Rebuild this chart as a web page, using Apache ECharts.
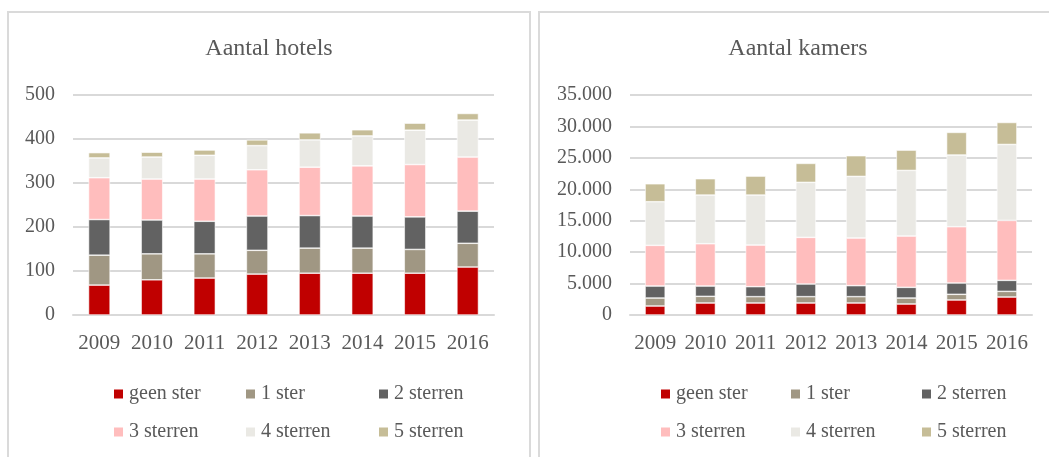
<!DOCTYPE html>
<html>
<head>
<meta charset="utf-8">
<script src="https://cdn.jsdelivr.net/npm/echarts@6/dist/echarts.min.js"></script>
<style>
  html, body { margin: 0; padding: 0; background: #fff; }
  body { width: 1049px; height: 457px; position: relative; overflow: hidden; }
  .panel { position: absolute; top: 11px; height: 460px; box-sizing: border-box;
           border: 2px solid #DADADA; background: #fff; }
  #hotels { left: 7px; width: 524px; }
  #kamers { left: 538px; width: 520px; }
</style>
</head>
<body>
<div id="hotels" class="panel"></div>
<div id="kamers" class="panel"></div>
<script>
// Categories and star classes
const years = ['2009', '2010', '2011', '2012', '2013', '2014', '2015', '2016'];
const classes = ['geen ster', '1 ster', '2 sterren', '3 sterren', '4 sterren', '5 sterren'];
const classColors = ['#C00000', '#A09783', '#626262', '#FFBDBD', '#EAE9E4', '#C6BD97'];

// Number of hotels per star class
const hotelsGeen   = [68, 80, 84, 93, 95, 95, 95, 109];
const hotels1      = [68, 59, 55, 54, 57, 57, 54, 54];
const hotels2      = [81, 77, 74, 78, 74, 73, 74, 73];
const hotels3      = [95, 93, 96, 105, 110, 114, 119, 123];
const hotels4      = [45, 50, 54, 55, 62, 68, 78, 84];
const hotels5      = [12, 11, 12, 13, 16, 14, 16, 15];

// Number of rooms per star class
const kamersGeen   = [1430, 1910, 1910, 1910, 1910, 1750, 2390, 2860];
const kamers1      = [1270, 1060, 1010, 1010, 1010, 950, 900, 900];
const kamers2      = [1910, 1640, 1590, 2010, 1750, 1700, 1800, 1750];
const kamers3      = [6470, 6730, 6620, 7420, 7580, 8160, 8960, 9540];
const kamers4      = [6940, 7740, 7950, 8750, 9800, 10440, 11400, 12080];
const kamers5      = [2860, 2600, 3020, 3020, 3290, 3230, 3600, 3500];

const hotelsTicks = { min: 0, max: 500, interval: 100 };
const kamersTicks = { min: 0, max: 35000, interval: 5000 };

const FONT = '"Liberation Serif", "DejaVu Serif", serif';
const TEXT = '#595959';

function thousands(v) {
  return String(v).replace(/\B(?=(\d{3})+(?!\d))/g, '.');
}

// One legend component per entry, laid out in a 3 x 2 grid
function legendGrid(columns, rows) {
  return classes.map((name, i) => ({
    data: [name],
    left: columns[i % 3],
    top: rows[Math.floor(i / 3)],
    padding: 0,
    itemWidth: 11,
    itemHeight: 11,
    icon: 'rect',
    selectedMode: false,
    textStyle: { fontFamily: FONT, fontSize: 20, color: TEXT }
  }));
}

function buildOption(title, seriesData, ticks, layout) {
  return {
    animation: false,
    title: {
      text: title,
      left: 'center',
      top: 19,
      textStyle: { fontFamily: FONT, fontSize: 24, fontWeight: 'normal', color: TEXT }
    },
    legend: legendGrid(layout.legendCols, [371, 409]),
    grid: { left: layout.gridLeft, right: layout.gridRight, top: 82, bottom: 154 },
    xAxis: {
      type: 'category',
      data: years,
      axisLine: { show: true, lineStyle: { color: '#D9D9D9', width: 2 } },
      axisTick: { show: false },
      axisLabel: { fontFamily: FONT, fontSize: 21, color: TEXT, margin: 18, interval: 0 }
    },
    yAxis: {
      type: 'value',
      min: ticks.min,
      max: ticks.max,
      interval: ticks.interval,
      axisLine: { show: false },
      axisTick: { show: false },
      splitLine: { lineStyle: { color: '#D9D9D9', width: 2 } },
      axisLabel: { fontFamily: FONT, fontSize: 20, color: TEXT, margin: 18, formatter: thousands }
    },
    series: seriesData.map((d, i) => ({
      name: classes[i],
      type: 'bar',
      stack: 'total',
      data: d,
      barWidth: layout.barWidth,
      itemStyle: { color: classColors[i], borderColor: '#ffffff', borderWidth: 0.6 }
    }))
  };
}

const hotelsChart = echarts.init(document.getElementById('hotels'), null, { renderer: 'canvas' });
hotelsChart.setOption(buildOption(
  'Aantal hotels',
  [hotelsGeen, hotels1, hotels2, hotels3, hotels4, hotels5],
  hotelsTicks,
  { gridLeft: 64, gridRight: 35, barWidth: '41%', legendCols: [103, 235, 368] }
));

const kamersChart = echarts.init(document.getElementById('kamers'), null, { renderer: 'canvas' });
kamersChart.setOption(buildOption(
  'Aantal kamers',
  [kamersGeen, kamers1, kamers2, kamers3, kamers4, kamers5],
  kamersTicks,
  { gridLeft: 90, gridRight: 24, barWidth: '40%', legendCols: [119, 249, 380] }
));
</script>
</body>
</html>
